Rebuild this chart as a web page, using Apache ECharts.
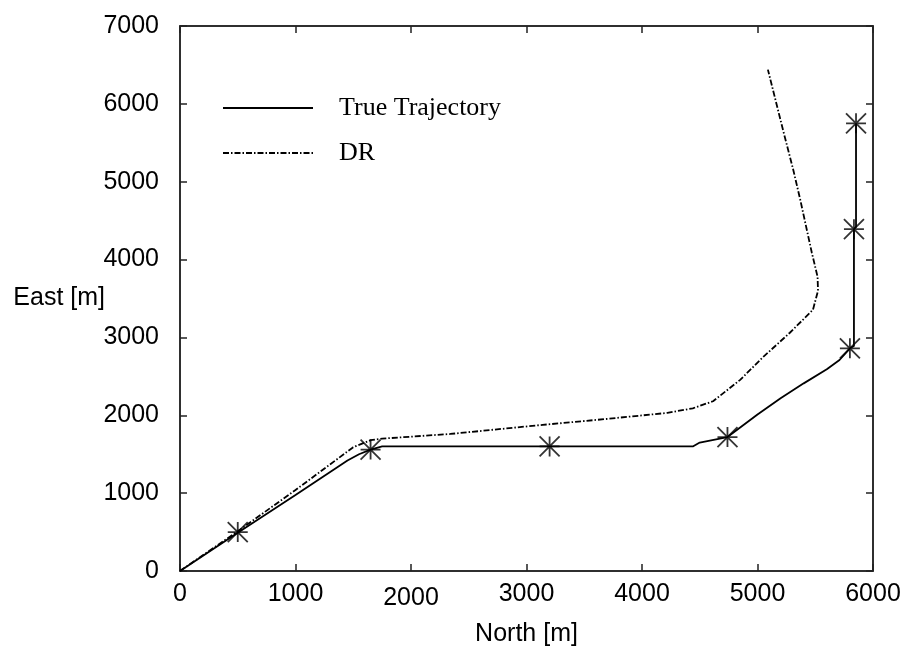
<!DOCTYPE html>
<html>
<head>
<meta charset="utf-8">
<script src="https://cdn.jsdelivr.net/npm/echarts@6/dist/echarts.min.js"></script>
<style>
  html, body { margin: 0; padding: 0; background: #fff; }
  #chart { width: 909px; height: 646px; }
</style>
</head>
<body>
<div id="chart"></div>
<script>
// Axis ticks
const northTicks = [0, 1000, 2000, 3000, 4000, 5000, 6000];
const eastTicks = [0, 1000, 2000, 3000, 4000, 5000, 6000, 7000];

// True trajectory [North, East] in metres
const trueNorth = [0, 500, 1000, 1450, 1550, 1650, 1750, 3200, 4440, 4500, 4740, 5000, 5200, 5400, 5600, 5710, 5800, 5835, 5835, 5853, 5853];
const trueEast  = [0, 490, 975, 1420, 1500, 1560, 1600, 1600, 1600, 1650, 1720, 2010, 2220, 2410, 2590, 2710, 2860, 2890, 4390, 4420, 5750];

// Dead-reckoning estimate [North, East] in metres
const drNorth = [0, 500, 1000, 1500, 1650, 1750, 2340, 3140, 3700, 4220, 4440, 4615, 4850, 5050, 5280, 5480, 5524, 5520, 5470, 5370, 5310, 5220, 5090];
const drEast  = [0, 510, 1040, 1590, 1680, 1700, 1760, 1877, 1954, 2031, 2090, 2180, 2455, 2750, 3060, 3355, 3600, 3780, 4090, 4770, 5150, 5670, 6440];

// Waypoints marked along the true trajectory
const wpNorth = [500, 1650, 3200, 4740, 5800, 5835, 5853];
const wpEast  = [500, 1560, 1600, 1720, 2860, 4390, 5750];

const zip = (a, b) => a.map((v, i) => [v, b[i]]);

const sansFont = '"Liberation Sans", Arial, Helvetica, sans-serif';
const serifFont = '"Liberation Serif", "Times New Roman", serif';
const axisColor = '#222';

const chart = echarts.init(document.getElementById('chart'), null, { renderer: 'canvas' });

// Ticks point into the plot on all four sides
function tickStyle() {
  return { show: true, inside: true, length: 7, lineStyle: { color: axisColor, width: 1.5 } };
}
function lineStyle() {
  return { show: true, onZero: false, lineStyle: { color: axisColor, width: 1.5 } };
}

chart.setOption({
  animation: false,
  backgroundColor: '#fff',
  grid: {
    left: 180, right: 36, top: 26, bottom: 75,
    outerBoundsMode: 'none', containLabel: false,
    show: true, borderColor: axisColor, borderWidth: 1.5
  },
  xAxis: [
    {
      type: 'value', position: 'bottom',
      min: northTicks[0], max: northTicks[northTicks.length - 1], interval: northTicks[1] - northTicks[0],
      splitLine: { show: false }, axisLine: lineStyle(), axisTick: tickStyle(),
      name: 'North [m]', nameLocation: 'middle', nameGap: 51, nameMoveOverlap: false,
      nameTextStyle: { fontFamily: sansFont, fontSize: 25, color: '#000' },
      axisLabel: {
        margin: 11, fontFamily: sansFont, fontSize: 25, color: '#000',
        // the 2000 label sits a little lower than its neighbours
        formatter: v => (v === 2000 ? '{low|' + v + '}' : String(v)),
        rich: { low: { fontFamily: sansFont, fontSize: 25, color: '#000', padding: [4, 0, 0, 0] } }
      }
    },
    {
      type: 'value', position: 'top',
      min: northTicks[0], max: northTicks[northTicks.length - 1], interval: northTicks[1] - northTicks[0],
      splitLine: { show: false }, axisLine: lineStyle(), axisTick: tickStyle(),
      axisLabel: { show: false }
    }
  ],
  yAxis: [
    {
      type: 'value', position: 'left',
      min: eastTicks[0], max: eastTicks[eastTicks.length - 1], interval: eastTicks[1] - eastTicks[0],
      splitLine: { show: false }, axisLine: lineStyle(), axisTick: tickStyle(),
      name: 'East [m]', nameLocation: 'middle', nameRotate: 0, nameGap: 75, nameMoveOverlap: false,
      nameTextStyle: { fontFamily: sansFont, fontSize: 25, color: '#000' },
      axisLabel: { margin: 21, fontFamily: sansFont, fontSize: 25, color: '#000', formatter: v => String(v) }
    },
    {
      type: 'value', position: 'right',
      min: eastTicks[0], max: eastTicks[eastTicks.length - 1], interval: eastTicks[1] - eastTicks[0],
      splitLine: { show: false }, axisLine: lineStyle(), axisTick: tickStyle(),
      axisLabel: { show: false }
    }
  ],
  legend: {
    orient: 'vertical', left: 217, top: 90,
    itemWidth: 90, itemHeight: 26, itemGap: 19,
    data: ['True Trajectory', 'DR'],
    itemStyle: { opacity: 0 },
    textStyle: { fontFamily: serifFont, fontSize: 26, color: '#000', padding: [0, 0, 0, 21] }
  },
  series: [
    {
      name: 'True Trajectory', type: 'line', symbol: 'none',
      data: zip(trueNorth, trueEast),
      lineStyle: { color: '#000', width: 1.8 }
    },
    {
      name: 'DR', type: 'line', symbol: 'none',
      data: zip(drNorth, drEast),
      lineStyle: { color: '#000', width: 1.8, type: [6, 2, 1.5, 2] }
    },
    {
      name: 'Waypoints', type: 'scatter',
      symbol: 'path://M10,0L10,20M0,10L20,10M0,0L20,20M0,20L20,0',
      symbolSize: 20,
      data: zip(wpNorth, wpEast),
      itemStyle: { color: 'none', borderColor: '#000', borderWidth: 1.8 }
    }
  ]
});
</script>
</body>
</html>
